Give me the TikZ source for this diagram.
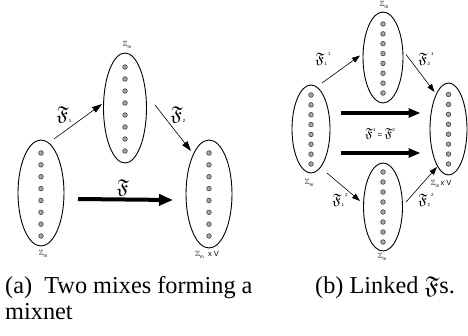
\documentclass[tikz,border=0pt]{standalone}
\usepackage{amssymb}
\usepackage{fontspec}
\setmainfont{Liberation Serif}
\setsansfont{Liberation Sans}
\usetikzlibrary{shapes.geometric,arrows.meta}
\newcommand{\mytiny}{\sffamily\fontsize{4.5}{5}\selectfont}
\newcommand{\zm}{$\mathbb{Z}$\raisebox{-1.8pt}{\mytiny m}}
\newcommand{\fsub}[1]{$\mathfrak{F}$\raisebox{-2pt}{\mytiny #1}}
\newcommand{\fsubsup}[2]{$\mathfrak{F}$\rlap{\raisebox{-2pt}{\mytiny #1}}\hspace{3.5pt}\raisebox{8pt}{\mytiny #2}}
\begin{document}
\begin{tikzpicture}[x=1pt,y=-1pt,
  setnode/.style={draw,ellipse,inner sep=0pt,line width=0.9pt},
  elem/.style={circle,draw=black!75,fill=black!35,inner sep=0pt,minimum size=4.6pt,line width=0.6pt},
  thinarrow/.style={-{Triangle[length=10pt,width=6.5pt]},line width=0.6pt},
  thinarrowb/.style={-{Triangle[length=8pt,width=5.5pt]},line width=0.6pt},
  thickarrow/.style={-{Triangle[length=14pt,width=11pt]},line width=4pt},
  thickarrowb/.style={-{Triangle[length=12pt,width=9pt]},line width=3.5pt},
  lbl/.style={font=\sffamily\fontsize{7.5}{8}\selectfont,inner sep=0pt},
  flab/.style={inner sep=0pt,font=\fontsize{20}{21}\selectfont},
  flabb/.style={inner sep=0pt,font=\fontsize{15}{16}\selectfont},
  flabc/.style={inner sep=0pt,font=\fontsize{13}{14}\selectfont},
  captext/.style={inner sep=0pt,anchor=base west,font=\fontsize{24.3}{26}\selectfont}]
\useasboundingbox (0,0) rectangle (468,335);

% ---------- panel (a) ----------
\node[setnode,minimum width=46pt,minimum height=106pt] (La) at (41,193) {};
\node[setnode,minimum width=43pt,minimum height=110pt] (Ta) at (125,108) {};
\node[setnode,minimum width=46pt,minimum height=108pt] (Ra) at (209,194) {};
\foreach \i in {0,...,7} {
  \node[elem] (La\i) at (41,153+11.86*\i) {};
  \node[elem] (Ta\i) at (125,67+12*\i) {};
  \node[elem] (Ra\i) at (209,153+11.86*\i) {};
}
\node[lbl] (laLa) at (43,254) {\zm};
\node[lbl] (laTa) at (127,45) {\zm};
\node[lbl] (laRa) at (207,255) {\zm\ \ x\ V};

\draw[thinarrow] ([shift={(13,-54)}]La.center) -- ([shift={(-23,-4)}]Ta.center);
\draw[thinarrow] ([shift={(30,-3)}]Ta.center) -- ([shift={(-18,-43)}]Ra.center);
\draw[thickarrow] ([shift={(37,6)}]La.center) -- ([shift={(-36,6)}]Ra.center);
\node[flab] (F1a) at (64,115) {\fsub{1}};
\node[flab] (F2a) at (178,115) {\fsub{2}};
\node[flab] (Fa) at (123,188) {$\mathfrak{F}$};

% ---------- panel (b) ----------
\node[setnode,minimum width=38pt,minimum height=88pt] (Lb) at (311,129) {};
\node[setnode,minimum width=40pt,minimum height=91pt] (Tb) at (383,57.5) {};
\node[setnode,minimum width=39pt,minimum height=88pt] (Bb) at (383,207) {};
\node[setnode,minimum width=37pt,minimum height=92pt] (Rb) at (448.5,129) {};
\foreach \i in {0,...,7} {
  \node[elem] (Lb\i) at (311,95+9.86*\i) {};
  \node[elem] (Tb\i) at (383,24+9.86*\i) {};
  \node[elem] (Bb\i) at (383,172+10*\i) {};
  \node[elem] (Rb\i) at (448.5,94.5+9.93*\i) {};
}
\node[lbl] (laTb) at (384,5) {\zm};
\node[lbl] (laBb) at (382,257) {\zm};
\node[lbl] (laLb) at (309,183) {\zm};
\node[lbl] (laRb) at (441,184) {\zm\,x\ V};

\draw[thinarrowb] ([shift={(11,-46)}]Lb.center) -- ([shift={(-23,-2)}]Tb.center);
\draw[thinarrowb] ([shift={(23,-3)}]Tb.center) -- ([shift={(-14,-37)}]Rb.center);
\draw[thinarrowb] ([shift={(16,44)}]Lb.center) -- ([shift={(-23,-6)}]Bb.center);
\draw[thinarrowb] ([shift={(23,-5)}]Bb.center) -- ([shift={(-11.5,38)}]Rb.center);
\draw[thickarrowb] ([shift={(30,-16)}]Lb.center) -- ([shift={(-28,-16)}]Rb.center);
\draw[thickarrowb] ([shift={(30,24)}]Lb.center) -- ([shift={(-28,24)}]Rb.center);
\node[flabb] (F11) at (323,59) {\fsubsup{1}{1}};
\node[flabb] (F21) at (426,59) {\fsubsup{2}{1}};
\node[flabb] (F12) at (340,200) {\fsubsup{1}{2}};
\node[flabb] (F22) at (426,200) {\fsubsup{2}{2}};
\node[flabc] (Feq) at (380,134) {$\mathfrak{F}$\raisebox{6pt}{\mytiny 1}\,{\sffamily\fontsize{8}{8}\selectfont =}\,$\mathfrak{F}$\raisebox{6pt}{\mytiny 2}};

% ---------- captions ----------
\node[captext] (capa1) at (5,293) {(a)\ \ Two mixes forming a};
\node[captext] (capa2) at (5,319) {mixnet};
\node[captext] (capb) at (315,293) {(b) Linked $\mathfrak{F}$s.};
\end{tikzpicture}
\end{document}
